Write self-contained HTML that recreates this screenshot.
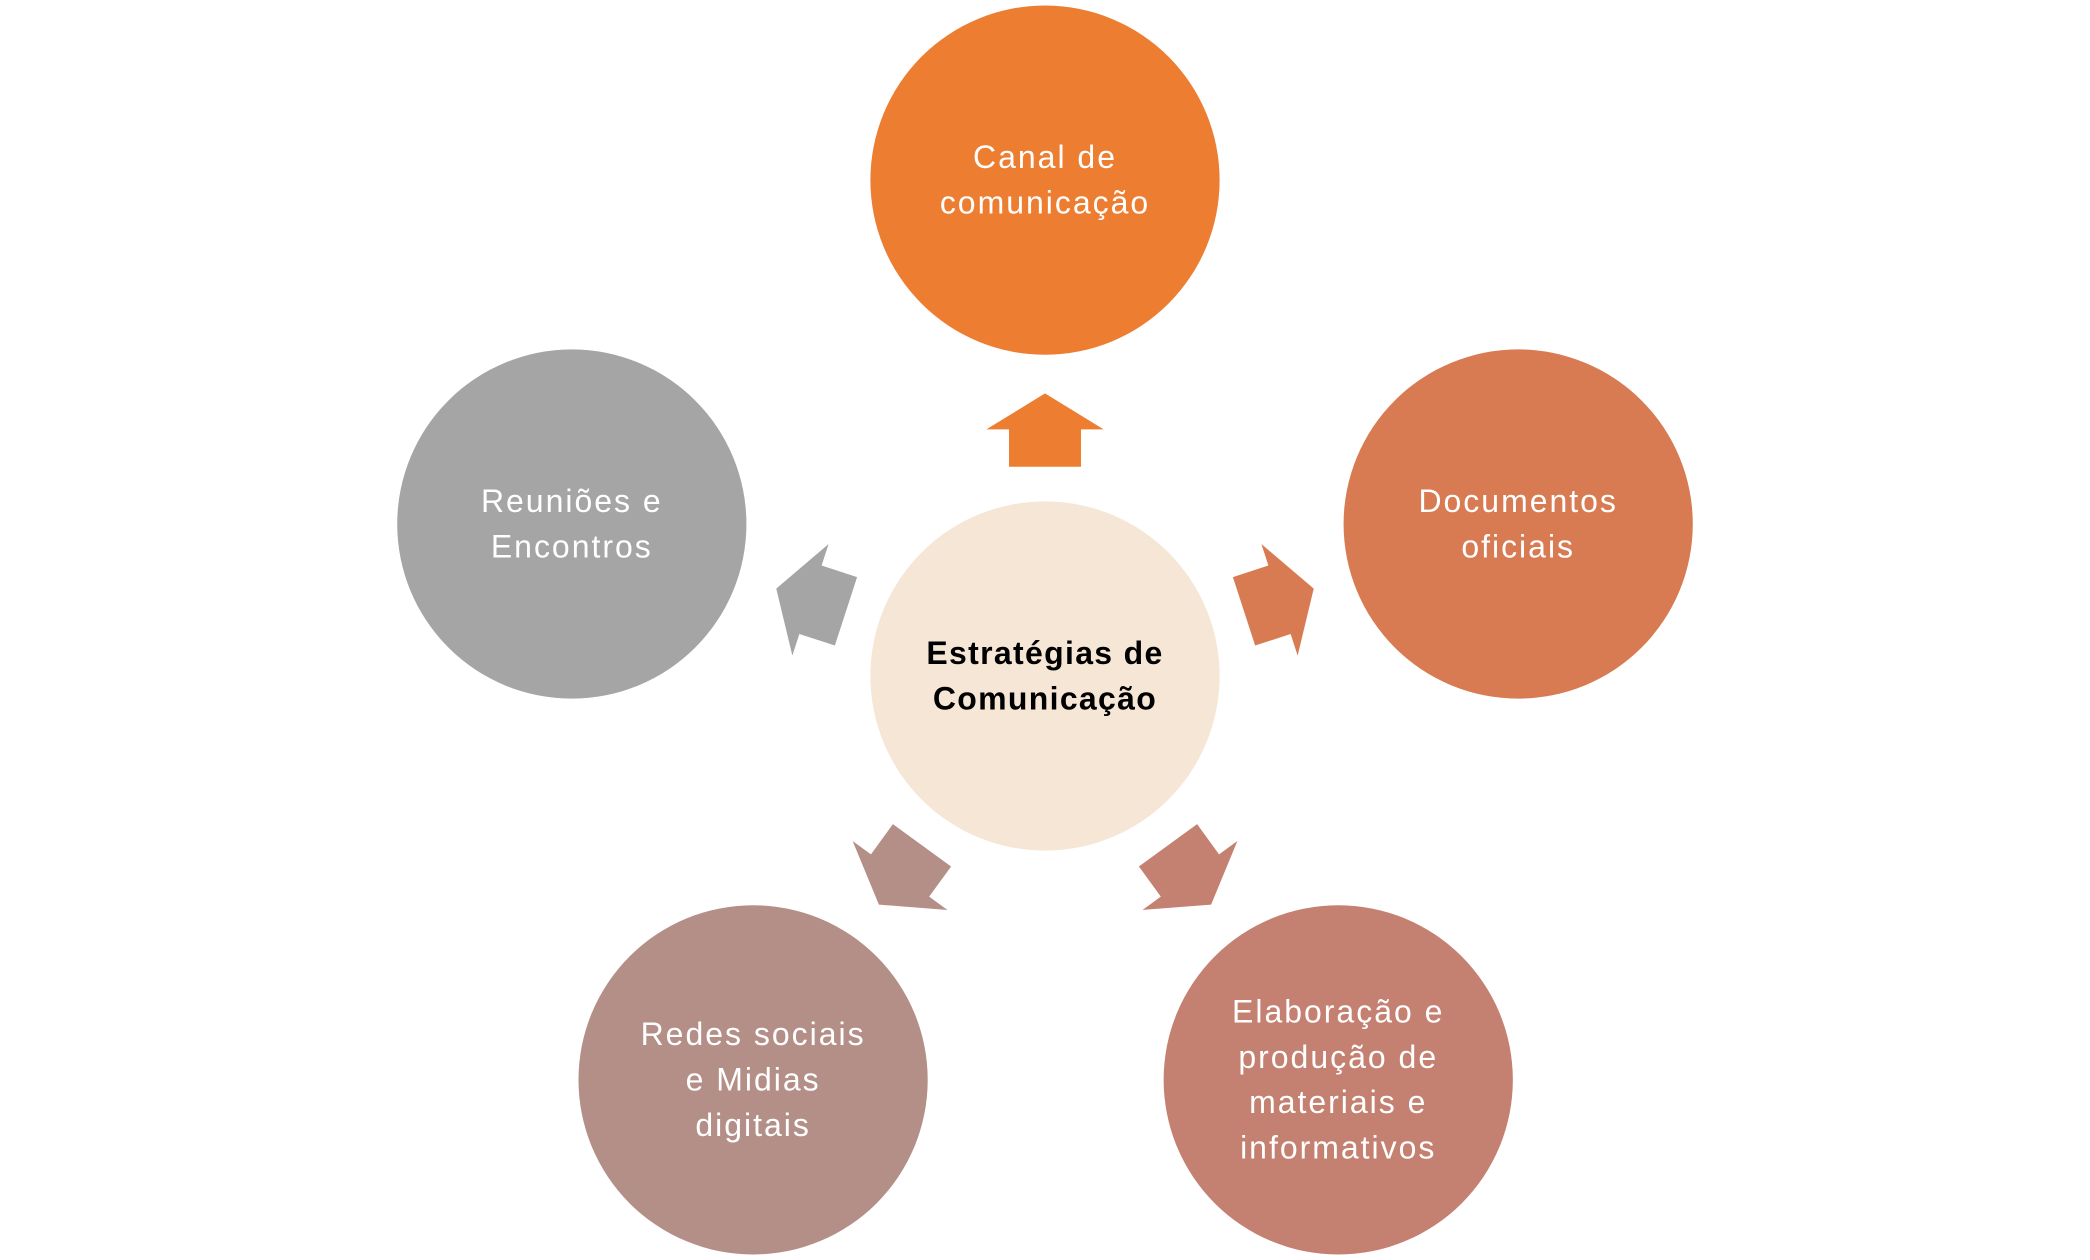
<!DOCTYPE html>
<html><head><meta charset="utf-8"><style>
html,body{margin:0;padding:0;background:#fff;}
svg{display:block;}
text{font-family:"Liberation Sans",sans-serif;font-size:24px;fill:#fff;text-anchor:middle;letter-spacing:1.5px;}
</style></head><body>
<svg width="2090" height="1260" viewBox="0 0 1568 945" xmlns="http://www.w3.org/2000/svg">
<defs>
<polygon id="arr" points="0,-212 44,-185 27,-185 27,-157 -27,-157 -27,-185 -44,-185"/>
</defs>
<circle cx="784" cy="507" r="131" fill="#F5E6D6"/>
<circle cx="784" cy="135" r="131" fill="#ED7D31"/>
<circle cx="1139" cy="393" r="131" fill="#D87B52"/>
<circle cx="1004" cy="810" r="131" fill="#C48070"/>
<circle cx="565" cy="810" r="131" fill="#B38F88"/>
<circle cx="429" cy="393" r="131" fill="#A5A5A5"/>
<g transform="translate(784,507)">
<use href="#arr" fill="#ED7D31"/>
<use href="#arr" fill="#D87B52" transform="rotate(72)"/>
<use href="#arr" fill="#C48070" transform="rotate(144)"/>
<use href="#arr" fill="#B38F88" transform="rotate(216)"/>
<use href="#arr" fill="#A5A5A5" transform="rotate(288)"/>
</g>
<text x="784" y="498" style="fill:#000;font-weight:bold;letter-spacing:1px">Estratégias de</text>
<text x="784" y="532" style="fill:#000;font-weight:bold;letter-spacing:1px">Comunicação</text>
<text x="784" y="126">Canal de</text>
<text x="784" y="160">comunicação</text>
<text x="1139" y="384">Documentos</text>
<text x="1139" y="418">oficiais</text>
<text x="429" y="384">Reuniões e</text>
<text x="429" y="418">Encontros</text>
<text x="565" y="784">Redes sociais</text>
<text x="565" y="818">e Midias</text>
<text x="565" y="852">digitais</text>
<text x="1004" y="767">Elaboração e</text>
<text x="1004" y="801">produção de</text>
<text x="1004" y="835">materiais e</text>
<text x="1004" y="869">informativos</text>
</svg>
</body></html>
